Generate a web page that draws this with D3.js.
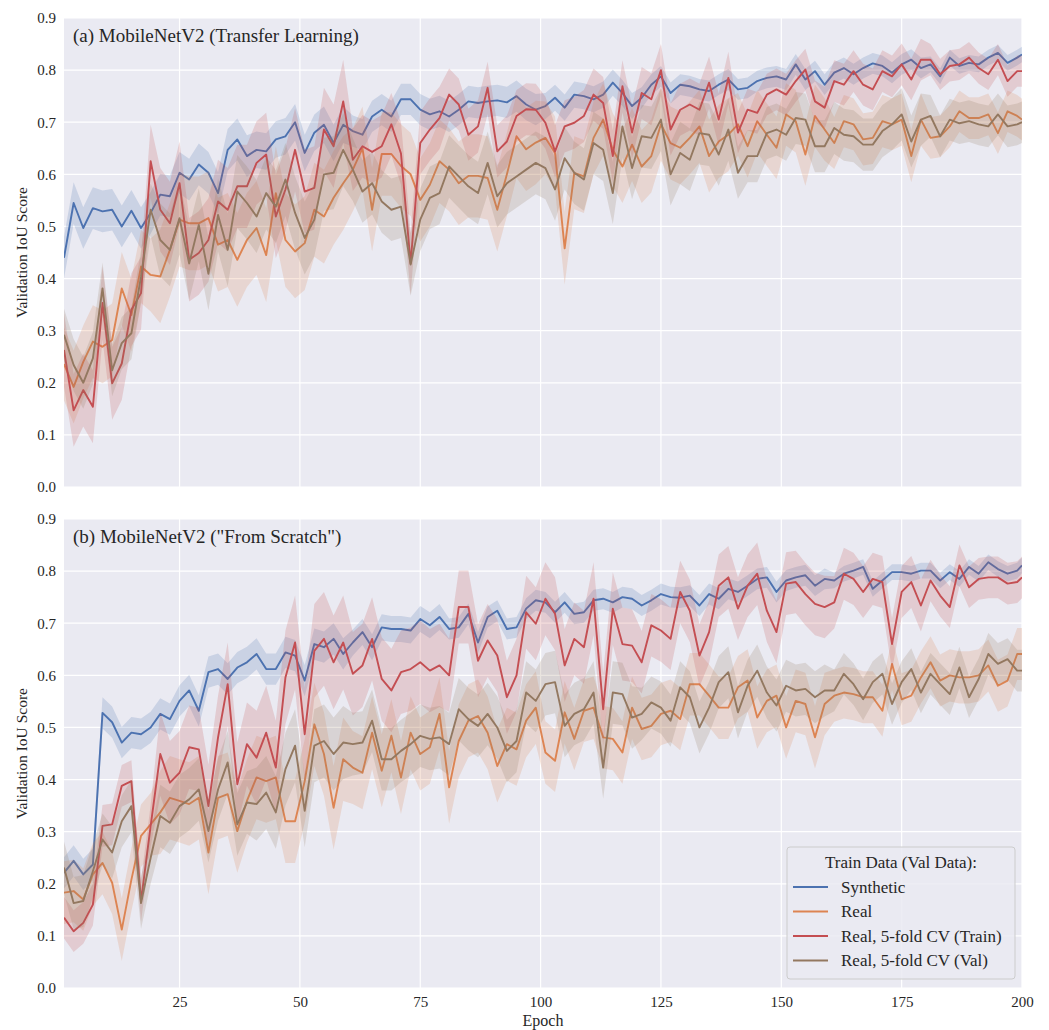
<!DOCTYPE html>
<html>
<head>
<meta charset="utf-8">
<script src="https://cdn.jsdelivr.net/npm/d3@7"></script>
<style>
  body { margin: 0; background: #fff; }
  text { font-family: "Liberation Serif", "DejaVu Serif", serif; fill: #262626; }
</style>
</head>
<body>
<script>
// Epochs sampled (odd epochs + the last one)
const epochs = d3.range(1, 200, 2).concat([200]);

// Panel (a) Transfer Learning
const aSynthetic = [0.44,0.545,0.497,0.535,0.529,0.532,0.50,0.53,0.497,0.526,0.561,0.558,0.603,0.59,0.619,0.603,0.564,0.647,0.667,0.635,0.647,0.644,0.667,0.673,0.70,
  0.641,0.68,0.695,0.66,0.695,0.683,0.676,0.711,0.724,0.711,0.744,0.744,0.724,0.715,0.721,0.711,0.724,0.74,0.737,0.74,0.742,0.738,0.75,0.734,0.724,
  0.731,0.747,0.728,0.753,0.75,0.744,0.753,0.776,0.756,0.731,0.747,0.772,0.788,0.756,0.772,0.769,0.763,0.76,0.772,0.782,0.763,0.766,0.779,0.785,0.788,
  0.782,0.811,0.782,0.798,0.772,0.795,0.804,0.792,0.804,0.813,0.808,0.795,0.811,0.82,0.804,0.811,0.788,0.824,0.808,0.814,0.811,0.824,0.833,0.814,0.824,0.83];
const aReal = [0.236,0.192,0.24,0.279,0.269,0.282,0.381,0.33,0.423,0.407,0.404,0.455,0.513,0.506,0.506,0.516,0.465,0.474,0.436,0.474,0.497,0.445,0.564,0.474,0.452,
  0.468,0.532,0.519,0.555,0.583,0.609,0.65,0.532,0.639,0.639,0.616,0.6,0.551,0.58,0.625,0.609,0.583,0.597,0.597,0.593,0.532,0.6,0.673,0.648,0.661,
  0.67,0.641,0.458,0.603,0.596,0.67,0.705,0.647,0.615,0.657,0.615,0.635,0.696,0.66,0.651,0.67,0.692,0.635,0.663,0.676,0.696,0.654,0.702,0.676,0.651,
  0.715,0.702,0.638,0.712,0.686,0.66,0.702,0.696,0.667,0.67,0.702,0.696,0.705,0.635,0.705,0.67,0.673,0.692,0.721,0.708,0.708,0.715,0.679,0.721,0.712,0.705];
const aCvTrain = [0.263,0.147,0.186,0.154,0.353,0.199,0.237,0.34,0.372,0.625,0.532,0.506,0.583,0.436,0.449,0.474,0.548,0.532,0.577,0.577,0.622,0.638,0.519,0.571,0.647,
  0.567,0.574,0.686,0.654,0.74,0.628,0.654,0.643,0.654,0.696,0.64,0.429,0.66,0.686,0.708,0.753,0.734,0.676,0.692,0.766,0.644,0.663,0.712,0.725,0.724,
  0.699,0.644,0.692,0.699,0.712,0.753,0.737,0.635,0.769,0.68,0.756,0.744,0.80,0.686,0.724,0.734,0.724,0.776,0.705,0.785,0.68,0.724,0.718,0.753,0.763,
  0.753,0.779,0.801,0.74,0.728,0.779,0.772,0.798,0.772,0.763,0.798,0.788,0.811,0.782,0.82,0.82,0.792,0.808,0.811,0.824,0.804,0.792,0.82,0.779,0.798,0.798];
const aCvVal = [0.292,0.234,0.2,0.247,0.381,0.224,0.276,0.295,0.404,0.532,0.474,0.455,0.516,0.429,0.503,0.409,0.522,0.455,0.567,0.545,0.519,0.564,0.538,0.59,0.526,
  0.478,0.513,0.6,0.603,0.647,0.609,0.567,0.583,0.548,0.532,0.538,0.427,0.513,0.555,0.564,0.615,0.596,0.577,0.564,0.622,0.558,0.583,0.596,0.609,0.622,
  0.612,0.571,0.631,0.603,0.59,0.66,0.647,0.564,0.692,0.612,0.673,0.67,0.705,0.6,0.641,0.628,0.679,0.676,0.638,0.686,0.603,0.635,0.635,0.679,0.686,
  0.676,0.708,0.705,0.654,0.654,0.689,0.676,0.673,0.657,0.657,0.683,0.696,0.715,0.663,0.705,0.712,0.673,0.705,0.698,0.702,0.696,0.692,0.715,0.692,0.696,0.70];

// Panel (b) From Scratch
const bSynthetic = [0.221,0.244,0.218,0.237,0.528,0.51,0.471,0.49,0.487,0.5,0.526,0.516,0.551,0.571,0.532,0.606,0.612,0.593,0.615,0.625,0.641,0.612,0.612,0.644,0.638,
  0.59,0.66,0.654,0.67,0.641,0.663,0.683,0.654,0.692,0.689,0.689,0.686,0.708,0.696,0.712,0.689,0.692,0.718,0.663,0.712,0.724,0.689,0.692,0.728,0.744,
  0.74,0.721,0.74,0.718,0.721,0.744,0.747,0.74,0.75,0.747,0.734,0.744,0.756,0.75,0.749,0.753,0.734,0.756,0.747,0.766,0.76,0.772,0.785,0.788,0.76,
  0.782,0.788,0.792,0.772,0.785,0.782,0.795,0.801,0.808,0.766,0.782,0.798,0.798,0.795,0.801,0.801,0.782,0.798,0.785,0.808,0.795,0.817,0.804,0.795,0.801,0.811];
const bReal = [0.183,0.186,0.17,0.218,0.24,0.202,0.112,0.208,0.292,0.314,0.337,0.365,0.359,0.353,0.365,0.26,0.365,0.372,0.301,0.359,0.404,0.397,0.404,0.32,0.32,
  0.397,0.506,0.449,0.346,0.439,0.423,0.413,0.49,0.417,0.484,0.404,0.49,0.449,0.462,0.526,0.385,0.474,0.513,0.522,0.49,0.426,0.468,0.458,0.513,0.538,
  0.452,0.436,0.529,0.478,0.532,0.538,0.481,0.478,0.452,0.538,0.497,0.503,0.526,0.532,0.516,0.583,0.583,0.561,0.538,0.538,0.577,0.59,0.519,0.551,0.561,
  0.5,0.551,0.545,0.481,0.545,0.561,0.567,0.564,0.558,0.558,0.532,0.622,0.554,0.561,0.596,0.625,0.59,0.6,0.596,0.596,0.6,0.619,0.58,0.59,0.641,0.641];
const bCvTrain = [0.135,0.109,0.125,0.16,0.311,0.314,0.388,0.397,0.167,0.311,0.449,0.394,0.413,0.462,0.458,0.349,0.481,0.583,0.391,0.468,0.442,0.49,0.423,0.596,0.663,
  0.487,0.647,0.67,0.625,0.663,0.603,0.619,0.67,0.593,0.571,0.606,0.612,0.625,0.609,0.619,0.6,0.731,0.731,0.628,0.667,0.638,0.558,0.6,0.721,0.699,
  0.747,0.718,0.619,0.67,0.654,0.747,0.535,0.728,0.66,0.657,0.625,0.696,0.686,0.67,0.76,0.724,0.638,0.683,0.772,0.788,0.728,0.772,0.795,0.724,0.683,
  0.776,0.779,0.756,0.737,0.731,0.74,0.795,0.785,0.76,0.785,0.779,0.66,0.76,0.779,0.734,0.782,0.753,0.731,0.811,0.769,0.785,0.788,0.788,0.776,0.779,0.788];
const bCvVal = [0.231,0.163,0.167,0.224,0.285,0.26,0.32,0.349,0.163,0.25,0.33,0.317,0.349,0.362,0.381,0.301,0.381,0.433,0.314,0.356,0.353,0.375,0.337,0.42,0.465,
  0.34,0.465,0.474,0.449,0.471,0.468,0.471,0.513,0.439,0.439,0.455,0.468,0.484,0.478,0.481,0.468,0.535,0.516,0.503,0.526,0.5,0.455,0.474,0.567,0.551,
  0.583,0.587,0.503,0.526,0.535,0.567,0.423,0.567,0.564,0.519,0.526,0.548,0.538,0.513,0.577,0.558,0.5,0.538,0.587,0.606,0.529,0.58,0.609,0.567,0.542,
  0.58,0.571,0.574,0.558,0.571,0.571,0.603,0.583,0.554,0.587,0.603,0.545,0.587,0.612,0.567,0.603,0.583,0.564,0.615,0.558,0.593,0.641,0.622,0.631,0.609,0.609];

// Band half-width per 20-epoch block (spread across runs)
const aSpread = {
  syn:   [0.04,0.04,0.035,0.03,0.03,0.025,0.02,0.02,0.02,0.015],
  real:  [0.07,0.09,0.09,0.08,0.08,0.07,0.07,0.06,0.05,0.04],
  train: [0.07,0.08,0.08,0.06,0.05,0.05,0.05,0.04,0.04,0.03],
  val:   [0.05,0.07,0.07,0.06,0.06,0.06,0.06,0.05,0.05,0.04]
};
const bSpread = {
  syn:   [0.03,0.03,0.03,0.025,0.02,0.02,0.02,0.02,0.015,0.015],
  real:  [0.06,0.08,0.08,0.07,0.07,0.06,0.06,0.06,0.05,0.05],
  train: [0.04,0.08,0.09,0.08,0.07,0.07,0.06,0.06,0.05,0.04],
  val:   [0.05,0.06,0.07,0.06,0.06,0.06,0.05,0.05,0.04,0.04]
};

const seriesNames = ['Synthetic', 'Real', 'Real, 5-fold CV (Train)', 'Real, 5-fold CV (Val)'];
const colors = ['#4c72b0', '#dd8452', '#c44e52', '#937860'];
const yTicks = [0, 0.1, 0.2, 0.3, 0.4, 0.5, 0.6, 0.7, 0.8, 0.9];
const xTicks = [25, 50, 75, 100, 125, 150, 175, 200];

const panels = [
  { title: '(a) MobileNetV2 (Transfer Learning)', top: 18, series: [aSynthetic, aReal, aCvTrain, aCvVal], spread: aSpread },
  { title: '(b) MobileNetV2 ("From Scratch")', top: 519, series: [bSynthetic, bReal, bCvTrain, bCvVal], spread: bSpread }
];

const width = 1049, height = 1030;
const left = 64, right = 1022, panelH = 469;

const svg = d3.select('body').append('svg')
  .attr('width', width)
  .attr('height', height);

const x = d3.scaleLinear().domain([1, 200]).range([left, right]);

panels.forEach((p, pi) => {
  const y = d3.scaleLinear().domain([0, 0.9]).range([p.top + panelH, p.top]);
  const g = svg.append('g');

  g.append('rect')
    .attr('x', left).attr('y', p.top)
    .attr('width', right - left).attr('height', panelH)
    .attr('fill', '#eaeaf2');

  // grid
  g.selectAll('.hg').data(yTicks).enter().append('line')
    .attr('x1', left).attr('x2', right)
    .attr('y1', d => y(d)).attr('y2', d => y(d))
    .attr('stroke', '#fff').attr('stroke-width', 1.2);
  g.selectAll('.vg').data(xTicks).enter().append('line')
    .attr('y1', p.top).attr('y2', p.top + panelH)
    .attr('x1', d => x(d)).attr('x2', d => x(d))
    .attr('stroke', '#fff').attr('stroke-width', 1.2);

  // clip for plot area
  const clipId = 'clip' + pi;
  g.append('clipPath').attr('id', clipId).append('rect')
    .attr('x', left).attr('y', p.top).attr('width', right - left).attr('height', panelH);

  const plot = g.append('g').attr('clip-path', `url(#${clipId})`);
  const keys = ['syn', 'real', 'train', 'val'];

  p.series.forEach((vals, si) => {
    const spr = p.spread[keys[si]];
    const pts = epochs.map((e, i) => {
      const s = spr[Math.min(9, Math.floor((e - 1) / 20))];
      return { e: e, v: vals[i], lo: vals[i] - s, hi: vals[i] + s };
    });

    plot.append('path')
      .datum(pts)
      .attr('d', d3.area().x(d => x(d.e)).y0(d => y(d.lo)).y1(d => y(d.hi)))
      .attr('fill', colors[si])
      .attr('fill-opacity', 0.2)
      .attr('stroke', 'none');

    plot.append('path')
      .datum(pts)
      .attr('d', d3.line().x(d => x(d.e)).y(d => y(d.v)))
      .attr('fill', 'none')
      .attr('stroke', colors[si])
      .attr('stroke-width', 1.9)
      .attr('stroke-linejoin', 'round');
  });

  // y axis
  const yAxis = d3.axisLeft(y).tickValues(yTicks).tickFormat(d3.format('.1f')).tickSize(0).tickPadding(8);
  const ya = g.append('g').attr('transform', `translate(${left},0)`).call(yAxis);
  ya.select('.domain').remove();
  ya.selectAll('text').style('font-size', '15px').style('font-family', '"Liberation Serif", serif').attr('fill', '#262626');

  g.append('text')
    .attr('transform', `translate(27,${p.top + panelH / 2}) rotate(-90)`)
    .attr('text-anchor', 'middle')
    .style('font-size', '15.5px')
    .text('Validation IoU Score');

  g.append('text')
    .attr('x', left + 9).attr('y', p.top + 24)
    .style('font-size', '19px')
    .text(p.title);

  if (pi === 1) {
    const xAxis = d3.axisBottom(x).tickValues(xTicks).tickSize(0).tickPadding(8);
    const xa = g.append('g').attr('transform', `translate(0,${p.top + panelH})`).call(xAxis);
    xa.select('.domain').remove();
    xa.selectAll('text').style('font-size', '15px').style('font-family', '"Liberation Serif", serif').attr('fill', '#262626');

    g.append('text')
      .attr('x', (left + right) / 2).attr('y', 1026)
      .attr('text-anchor', 'middle')
      .style('font-size', '16px')
      .text('Epoch');

    // legend
    const lg = g.append('g').attr('transform', 'translate(787,847)');
    lg.append('rect')
      .attr('width', 228).attr('height', 132)
      .attr('rx', 3)
      .attr('fill', '#eaeaf2').attr('fill-opacity', 0.85)
      .attr('stroke', '#cccccc').attr('stroke-width', 1);
    lg.append('text')
      .attr('x', 114).attr('y', 21)
      .attr('text-anchor', 'middle')
      .style('font-size', '17px')
      .text('Train Data (Val Data):');
    seriesNames.forEach((name, i) => {
      const ry = 40 + i * 24.5;
      lg.append('line')
        .attr('x1', 6).attr('x2', 41)
        .attr('y1', ry).attr('y2', ry)
        .attr('stroke', colors[i]).attr('stroke-width', 1.9);
      lg.append('text')
        .attr('x', 54).attr('y', ry + 5.5)
        .style('font-size', '17px')
        .text(name);
    });
  }
});
</script>
</body>
</html>
